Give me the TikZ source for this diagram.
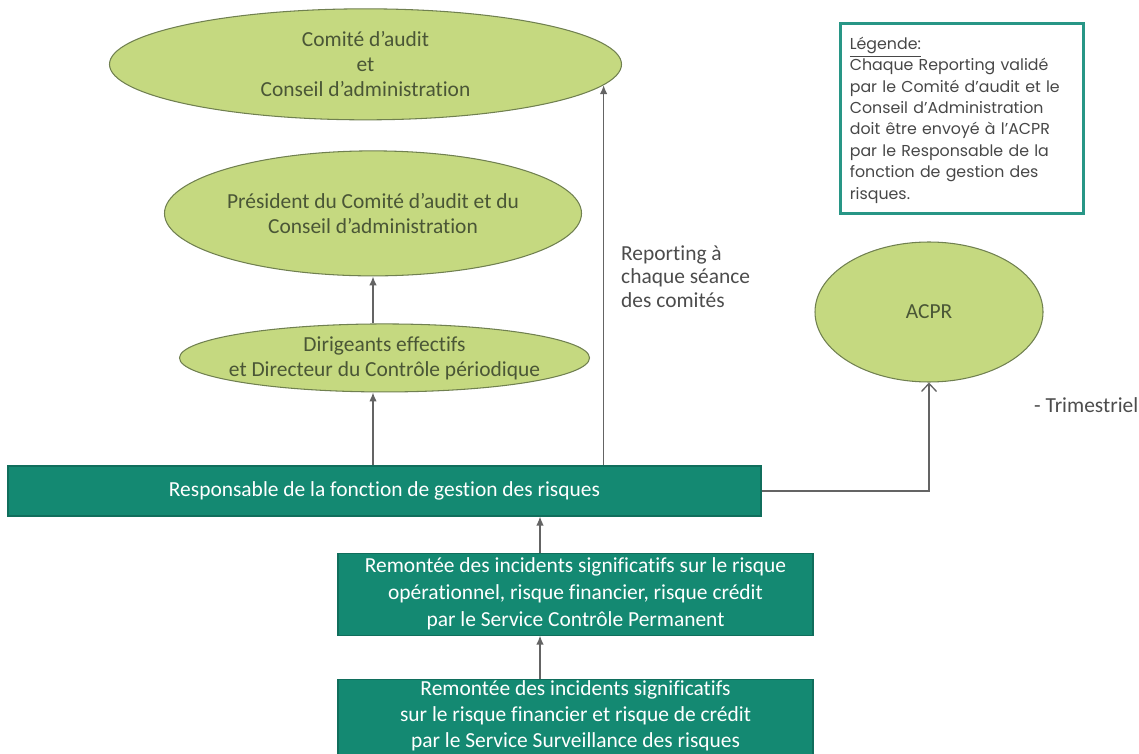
\documentclass[tikz,border=0pt]{standalone}
\usepackage{fontspec}
\setmainfont[Ligatures=NoCommon]{Carlito}
\newfontfamily\legendfont{Poppins}
\usepackage{xcolor}
\usepackage{tikz}
\usetikzlibrary{shapes.geometric, arrows.meta, positioning}

\definecolor{ellfill}{RGB}{197,217,128}
\definecolor{elldraw}{RGB}{112,128,80}
\definecolor{elltext}{RGB}{74,86,54}
\definecolor{tealfill}{RGB}{20,137,114}
\definecolor{tealdraw}{RGB}{16,110,92}
\definecolor{legenddraw}{RGB}{40,150,134}
\definecolor{linegray}{RGB}{100,100,100}

\begin{document}
\begin{tikzpicture}[
        % Styles
        ellnode/.style={
            ellipse, draw=elldraw, line width=0.6pt,
            fill=ellfill, text=elltext,
            inner sep=0pt, align=center,
            font=\fontsize{12.2}{14.2}\selectfont
        },
        tealbox/.style={
            rectangle, draw=tealdraw, line width=0.6pt,
            fill=tealfill, text=white,
            inner sep=1pt, align=center,
            font=\fontsize{12.2}{15.4}\selectfont
        },
        note/.style={
            rectangle, draw=legenddraw, line width=1.5pt,
            text=black!72, align=left, anchor=north west,
            inner sep=0pt, text width=4.6cm,
            font=\legendfont\fontsize{9}{12.2}\selectfont
        },
        plain/.style={
            text=black!70, align=left, anchor=west,
            font=\fontsize{12.2}{13.4}\selectfont
        },
        line/.style={
            -{Latex[length=1.8mm, width=1.5mm]},
            draw=linegray, line width=0.75pt
        },
        openline/.style={
            -{Straight Barb[length=1.6mm, width=3mm]},
            draw=linegray, line width=0.75pt
        }
    ]

        \useasboundingbox (0,0) rectangle (22.78,-15.08);

        % Responsable and the chain above it
        \node[tealbox, minimum width=15.06cm, minimum height=1cm] (resp) at (7.69,-9.82)
            {Responsable de la fonction de gestion des risques};
        \node[ellnode, minimum width=8.2cm, minimum height=1.36cm, inner xsep=-10pt, inner ysep=-2pt,
            above=1.46cm of resp] (dirigeants)
            {Dirigeants effectifs\\et Directeur du Contrôle périodique};
        \node[ellnode, minimum width=8.34cm, minimum height=2.5cm, inner xsep=-3pt,
            above=0.94cm of dirigeants, xshift=-0.23cm] (president)
            {Président du Comité d’audit et du\\Conseil d’administration};
        \node[ellnode, minimum width=10.24cm, minimum height=2.22cm,
            above=0.6cm of president, xshift=-0.15cm] (comite)
            {Comité d’audit\\et\\Conseil d’administration};

        % Remontees
        \node[tealbox, minimum width=9.5cm, minimum height=1.64cm,
            below=0.72cm of resp, xshift=3.82cm] (cp)
            {Remontée des incidents significatifs sur le risque\\opérationnel, risque financier, risque crédit\\par le Service Contrôle Permanent};
        \node[tealbox, minimum width=9.5cm, minimum height=1.6cm, text depth=0.52cm,
            font=\fontsize{12.2}{14.8}\selectfont,
            below=0.86cm of cp] (surv)
            {Remontée des incidents significatifs\\sur le risque financier et risque de crédit\\par le Service Surveillance des risques};

        % ACPR and notes
        \node[ellnode, minimum width=4.56cm, minimum height=2.8cm] (acpr) at (18.58,-6.24) {ACPR};
        \node[note, minimum width=4.86cm, minimum height=3.8cm, text depth=3.3cm] (legend) at (16.78,-0.44)
            {\hspace*{0.06cm}\parbox[t]{4.75cm}{\vspace{0.02cm}\underline{Légende:}\\Chaque Reporting validé\\par le Comité d’audit et le\\Conseil d’Administration\\doit être envoyé à l’ACPR\\par le Responsable de la\\fonction de gestion des\\risques.}};
        \node[plain] (reporting) at (12.3,-5.53) {Reporting à\\chaque séance\\des comités};
        \node[plain] (trim) at (20.56,-8.1) {- Trimestriel};

        % Connections
        \draw[line] (president.south |- resp.north) -- (president.south |- dirigeants.south);
        \draw[line] (president.south |- dirigeants.north) -- (president.south);
        \draw[line] (comite.-5 |- resp.north) -- (comite.-5);
        \draw[line] ([xshift=-0.71cm]cp.north) -- ([xshift=-0.71cm]cp.north |- resp.south);
        \draw[line] ([xshift=-0.71cm]surv.north) -- ([xshift=-0.71cm]surv.north |- cp.south);
        \draw[openline] (resp.east) -| (acpr.south);

    \end{tikzpicture}
\end{document}
